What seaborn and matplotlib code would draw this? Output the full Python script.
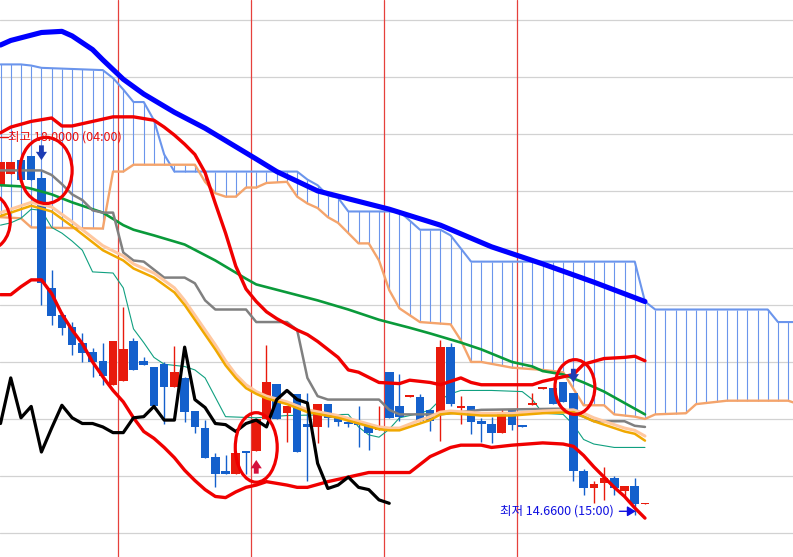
import numpy as np
import matplotlib
matplotlib.use("Agg")
import matplotlib.pyplot as plt
import seaborn as sns
from matplotlib.patches import Ellipse

# candles, one per bar (bar 0 is cut at the left edge)
bar_open = [17.54, 17.65, 17.77, 17.81, 17.61, 16.65, 16.41, 16.31, 16.17, 16.09,
            16.01, 15.80, 15.83, 16.18, 16.01, 15.96, 15.98, 15.78, 15.86, 15.57,
            15.42, 15.17, 15.04, 15.02, 15.21, 15.22, 15.50, 15.81, 15.55, 15.72,
            15.46, 15.43, 15.63, 15.51, 15.47, 15.47, 15.46, 15.40, 15.91, 15.61,
            15.69, 15.69, 15.58, 15.55, 16.13, 15.60, 15.61, 15.48, 15.46, 15.38,
            15.58, 15.44, 15.62, 15.76, 15.77, 15.82, 15.73, 15.04, 14.89, 14.94,
            14.98, 14.87, 14.91, 14.75]
bar_high = [17.75, 17.75, 17.77, 17.81, 17.68, 16.81, 16.44, 16.35, 16.25, 16.12,
            16.17, 16.18, 16.48, 16.21, 16.04, 15.96, 16.00, 16.14, 15.87, 15.57,
            15.49, 15.20, 15.18, 15.20, 15.21, 15.50, 16.15, 15.81, 15.61, 15.72,
            15.73, 15.63, 15.63, 15.54, 15.52, 15.61, 15.46, 15.61, 15.91, 15.89,
            15.70, 15.72, 15.58, 16.19, 16.17, 15.70, 15.61, 15.51, 15.52, 15.59,
            15.58, 15.44, 15.73, 15.77, 15.77, 15.82, 15.73, 15.06, 14.96, 15.08,
            15.00, 14.91, 14.98, 14.76]
bar_low = [17.54, 17.65, 17.60, 17.60, 16.50, 16.32, 16.24, 16.06, 16.00, 15.87,
           15.80, 15.80, 15.83, 15.93, 15.97, 15.60, 15.46, 15.78, 15.47, 15.38,
           15.16, 14.90, 15.02, 15.02, 15.02, 15.22, 15.50, 15.50, 15.30, 15.21,
           14.96, 15.29, 15.43, 15.44, 15.43, 15.25, 15.23, 15.40, 15.51, 15.48,
           15.69, 15.48, 15.39, 15.31, 15.61, 15.46, 15.37, 15.30, 15.29, 15.38,
           15.40, 15.43, 15.62, 15.76, 15.63, 15.65, 14.96, 14.83, 14.76, 14.79,
           14.83, 14.82, 14.66, 14.75]
bar_close = [17.75, 17.75, 17.60, 17.60, 16.69, 16.40, 16.30, 16.15, 16.08, 16.00,
             15.88, 16.18, 16.11, 15.93, 15.97, 15.61, 15.78, 15.91, 15.56, 15.43,
             15.16, 15.02, 15.02, 15.20, 15.20, 15.50, 15.82, 15.50, 15.61, 15.21,
             15.43, 15.63, 15.51, 15.47, 15.46, 15.45, 15.38, 15.42, 15.51, 15.52,
             15.70, 15.48, 15.48, 16.13, 15.63, 15.61, 15.47, 15.46, 15.38, 15.55,
             15.45, 15.43, 15.63, 15.77, 15.63, 15.65, 15.04, 14.89, 14.93, 14.98,
             14.89, 14.91, 14.75, 14.76]

# long moving average (thick blue)
ma_long_x = [0, 1, 4, 6, 7, 9, 10, 12, 14, 17, 20, 25, 27, 31, 38, 43, 48, 53, 58, 63]
ma_long = [18.78, 18.82, 18.89, 18.90, 18.86, 18.74, 18.65, 18.48, 18.35, 18.19,
           18.05, 17.78, 17.67, 17.50, 17.34, 17.20, 17.01, 16.86, 16.70, 16.53]

# cloud edges
span_a_x = [0, 2, 3, 4, 10, 11, 12, 13, 14, 15, 16, 17, 29, 30, 31, 32, 33, 34, 39,
            41, 43, 44, 46, 62, 63, 64, 75, 76, 78]
span_a = [18.61, 18.61, 18.60, 18.58, 18.56, 18.49, 18.39, 18.28, 18.28, 18.12,
          17.82, 17.67, 17.67, 17.60, 17.55, 17.46, 17.44, 17.32, 17.32, 17.16,
          17.16, 17.11, 16.88, 16.88, 16.53, 16.46, 16.46, 16.35, 16.35]
span_b_x = [0, 2, 3, 10, 11, 12, 13, 19, 20, 21, 22, 23, 24, 25, 26, 28, 29, 30, 31,
            32, 33, 34, 35, 36, 37, 38, 39, 41, 44, 45, 46, 47, 50, 53, 55, 57, 59,
            60, 62, 63, 64, 67, 68, 71, 77, 78]
span_b = [17.27, 17.26, 17.18, 17.17, 17.67, 17.67, 17.73, 17.73, 17.58, 17.48,
          17.45, 17.45, 17.53, 17.53, 17.57, 17.58, 17.45, 17.39, 17.35, 17.27,
          17.22, 17.13, 17.04, 17.04, 16.89, 16.63, 16.47, 16.35, 16.33, 16.19,
          16.00, 16.00, 15.95, 15.93, 15.91, 15.62, 15.62, 15.54, 15.52, 15.50,
          15.54, 15.55, 15.63, 15.66, 15.66, 15.63]

# bollinger bands
bb_up_x = [0, 1, 3, 5, 6, 7, 8, 10, 11, 13, 15, 16, 17, 18, 19, 20, 21, 22, 23, 24,
           25, 26, 27, 29, 30, 31, 33, 34, 35, 37, 39, 40, 42, 43, 45, 46, 47, 52,
           53, 55, 56, 57, 59, 61, 62, 63]
bb_up = [18.01, 18.06, 18.11, 18.14, 18.07, 18.07, 18.09, 18.13, 18.15, 18.15,
         18.12, 18.06, 17.99, 17.91, 17.82, 17.66, 17.39, 17.13, 16.84, 16.64,
         16.53, 16.44, 16.38, 16.28, 16.24, 16.18, 16.04, 15.93, 15.91, 15.82,
         15.81, 15.84, 15.82, 15.80, 15.86, 15.82, 15.80, 15.80, 15.83, 15.87,
         15.89, 15.98, 16.03, 16.04, 16.05, 16.01]
bb_lo_x = [0, 1, 2, 3, 4, 5, 6, 7, 8, 9, 10, 11, 12, 13, 14, 15, 16, 17, 18, 19, 20,
           21, 22, 23, 24, 25, 26, 28, 29, 30, 32, 34, 36, 40, 41, 42, 43, 44, 45,
           47, 48, 50, 53, 55, 56, 57, 58, 59, 60, 61, 62, 63]
bb_lo = [16.59, 16.59, 16.66, 16.72, 16.72, 16.60, 16.42, 16.28, 16.16, 16.00,
         15.87, 15.75, 15.65, 15.51, 15.39, 15.33, 15.25, 15.16, 15.05, 14.96,
         14.88, 14.82, 14.81, 14.86, 14.90, 14.92, 14.95, 14.92, 14.90, 14.90,
         14.95, 14.99, 15.03, 15.03, 15.10, 15.17, 15.21, 15.25, 15.27, 15.27,
         15.25, 15.27, 15.29, 15.28, 15.26, 15.18, 15.08, 14.99, 14.90, 14.82,
         14.72, 14.63]

# mid moving average (green)
ma_mid_x = [0, 2, 3, 5, 7, 10, 12, 13, 15, 18, 21, 24, 25, 28, 31, 34, 37, 40, 42,
            45, 47, 50, 52, 53, 55, 57, 59, 61, 63]
ma_mid = [17.55, 17.54, 17.52, 17.47, 17.40, 17.31, 17.20, 17.16, 17.11, 17.03,
          16.89, 16.73, 16.68, 16.61, 16.54, 16.46, 16.37, 16.30, 16.25, 16.17,
          16.11, 16.00, 15.96, 15.92, 15.89, 15.82, 15.74, 15.64, 15.54]

# base line (gray)
base_x = [0, 4, 5, 6, 7, 8, 9, 10, 11, 12, 13, 14, 16, 18, 19, 20, 21, 24, 25, 28,
          29, 30, 31, 32, 37, 38, 39, 43, 45, 47, 55, 56, 57, 58, 61, 62, 63]
base = [17.68, 17.68, 17.64, 17.56, 17.47, 17.42, 17.33, 17.31, 17.31, 16.96,
        16.89, 16.88, 16.74, 16.74, 16.69, 16.54, 16.46, 16.46, 16.35, 16.35,
        16.28, 15.86, 15.70, 15.67, 15.67, 15.58, 15.54, 15.54, 15.56, 15.58,
        15.59, 15.55, 15.52, 15.48, 15.48, 15.44, 15.43]

# conversion line (thin teal)
conv_x = [0, 1, 2, 3, 4, 5, 6, 7, 8, 9, 11, 12, 13, 14, 15, 16, 18, 19, 20, 21, 22,
          25, 28, 34, 35, 36, 37, 38, 39, 41, 42, 43, 44, 45, 48, 51, 52, 53, 55,
          56, 57, 58, 60, 63]
conv = [17.20, 17.22, 17.26, 17.34, 17.33, 17.18, 17.13, 17.06, 16.98, 16.79,
        16.78, 16.65, 16.29, 16.17, 16.04, 15.98, 15.96, 15.93, 15.86, 15.69,
        15.52, 15.51, 15.53, 15.54, 15.43, 15.36, 15.34, 15.41, 15.51, 15.55,
        15.58, 15.67, 15.72, 15.75, 15.75, 15.74, 15.67, 15.55, 15.54, 15.45,
        15.32, 15.28, 15.25, 15.25]

# short moving averages (orange pair)
ma_short_x = [0, 3, 5, 7, 10, 12, 13, 15, 17, 18, 19, 20, 21, 22, 23, 24, 25, 26,
              28, 30, 33, 35, 37, 38, 39, 41, 42, 43, 44, 47, 50, 53, 56, 57, 58,
              59, 60, 61, 62, 63]
ma_short = [17.28, 17.37, 17.32, 17.19, 16.98, 16.89, 16.82, 16.74, 16.61, 16.50,
            16.37, 16.24, 16.11, 15.97, 15.86, 15.77, 15.72, 15.68, 15.63, 15.56,
            15.51, 15.46, 15.41, 15.40, 15.40, 15.46, 15.49, 15.54, 15.55, 15.53,
            15.53, 15.55, 15.56, 15.52, 15.48, 15.45, 15.42, 15.39, 15.37, 15.31]
ma_short2 = [17.31, 17.40, 17.36, 17.23, 17.02, 16.93, 16.86, 16.78, 16.65, 16.54,
             16.41, 16.28, 16.15, 16.01, 15.89, 15.80, 15.74, 15.70, 15.65, 15.58,
             15.53, 15.48, 15.43, 15.42, 15.42, 15.49, 15.52, 15.56, 15.57, 15.55,
             15.55, 15.57, 15.58, 15.55, 15.51, 15.48, 15.45, 15.42, 15.40, 15.35]

# lagging span (black)
lag_x = list(range(39))
lag = [15.46, 15.86, 15.51, 15.61, 15.21, 15.42, 15.62, 15.51, 15.46, 15.46,
       15.43, 15.38, 15.38, 15.51, 15.52, 15.61, 15.49, 15.49, 16.13, 15.67,
       15.60, 15.46, 15.45, 15.39, 15.46, 15.49, 15.43, 15.67, 15.75, 15.67,
       15.64, 15.11, 14.89, 14.92, 14.99, 14.90, 14.88, 14.79, 14.76]

grid_levels = [14.5, 15.0, 15.5, 16.0, 16.5, 17.0, 17.5, 18.0, 18.5, 19.0]
day_breaks = [11.5, 24.5, 37.5, 50.5]

# red circle marks: bar, price, width (bars), height (price)
circle_bar = [4.45, -1.5, 25.0, 56.15]
circle_price = [17.68, 17.23, 15.25, 15.78]
circle_w = [5.1, 4.9, 4.1, 3.9]
circle_h = [0.58, 0.51, 0.61, 0.48]

# signal arrows: bar, tail, tip
sell_bar = [4, 56]
sell_tail = [17.90, 15.94]
sell_tip = [17.77, 15.82]
buy_bar = [25]
buy_tail = [15.02]
buy_tip = [15.14]

high_label = "최고 18.0000 (04:00)"
low_label = "최저 14.6600 (15:00)"

sns.set_style("white")
plt.rcParams['font.family'] = ['Noto Sans CJK KR', 'DejaVu Sans']

fig = plt.figure(figsize=(7.93, 5.57), dpi=100)
ax = fig.add_axes([0, 0, 1, 1])
ax.set_xlim(-0.05, 77.47)
ax.set_ylim(14.289, 19.175)
ax.axis('off')

for g in grid_levels:
    ax.axhline(g, color='#d2d2d2', lw=0.9, zorder=0)
for d in day_breaks:
    ax.axvline(d, color='#e6403c', lw=0.9, zorder=1)

# cloud with vertical hatch on every bar
cloud_bars = np.arange(0, 78)
cloud_top = np.interp(cloud_bars, span_a_x, span_a)
cloud_bot = np.interp(cloud_bars, span_b_x, span_b)
ax.vlines(cloud_bars, cloud_bot, cloud_top, color='#6b95ec', lw=0.8, zorder=1)
sns.lineplot(x=span_a_x, y=span_a, ax=ax, color='#6b95ec', lw=1.5, zorder=2, legend=False)
sns.lineplot(x=span_b_x, y=span_b, ax=ax, color='#f4a46c', lw=1.7, zorder=2, legend=False)

sns.lineplot(x=ma_long_x, y=ma_long, ax=ax, color='#0000ff', lw=3.7, zorder=2, legend=False)
sns.lineplot(x=conv_x, y=conv, ax=ax, color='#10a080', lw=0.8, zorder=2, legend=False)

# candles
o = np.array(bar_open)
c = np.array(bar_close)
hi = np.array(bar_high)
lo = np.array(bar_low)
idx = np.arange(len(o))
col = np.where(c >= o, '#e81a0c', '#1460cc')
ax.vlines(idx, lo, hi, color=col, lw=1.0, zorder=3)
ax.bar(idx, np.maximum(np.abs(c - o), 0.017), bottom=np.minimum(o, c),
       width=0.84, color=col, linewidth=0, zorder=3)

sns.lineplot(x=ma_mid_x, y=ma_mid, ax=ax, color='#0a9a3a', lw=1.9, zorder=4, legend=False)
sns.lineplot(x=base_x, y=base, ax=ax, color='#808080', lw=1.8, zorder=4, legend=False)
sns.lineplot(x=ma_short_x, y=ma_short2, ax=ax, color='#ffc8a0', lw=2.2, zorder=4, legend=False)
sns.lineplot(x=ma_short_x, y=ma_short, ax=ax, color='#f0a800', lw=1.8, zorder=4, legend=False)
sns.lineplot(x=bb_up_x, y=bb_up, ax=ax, color='#f00000', lw=2.4, zorder=4, legend=False)
sns.lineplot(x=bb_lo_x, y=bb_lo, ax=ax, color='#f00000', lw=2.4, zorder=4, legend=False)
sns.lineplot(x=lag_x, y=lag, ax=ax, color='#000000', lw=2.3, zorder=4, legend=False)

for b, p, w, h in zip(circle_bar, circle_price, circle_w, circle_h):
    ax.add_patch(Ellipse((b, p), w, h, fill=False, edgecolor='#f00000', lw=2.3, zorder=5))

arrow_style = "simple,head_length=0.6,head_width=0.8,tail_width=0.35"
for b, t0, t1 in zip(sell_bar, sell_tail, sell_tip):
    ax.annotate("", xy=(b, t1), xytext=(b, t0),
                arrowprops=dict(arrowstyle=arrow_style, mutation_scale=10,
                                color='#1c3cb4', lw=0, shrinkA=0, shrinkB=0), zorder=6)
for b, t0, t1 in zip(buy_bar, buy_tail, buy_tip):
    ax.annotate("", xy=(b, t1), xytext=(b, t0),
                arrowprops=dict(arrowstyle=arrow_style, mutation_scale=10,
                                color='#d4103c', lw=0, shrinkA=0, shrinkB=0), zorder=6)

# high / low labels
ax.plot([-0.05, 0.7], [17.97, 17.97], color='#e81010', lw=1.0, zorder=6)
ax.text(0.75, 17.97, high_label, ha='left', va='center', fontsize=9,
        color='#e81010', zorder=6)
ax.text(59.9, 14.69, low_label, ha='right', va='center', fontsize=9,
        color='#1010e0', zorder=6)
ax.annotate("", xy=(62.1, 14.69), xytext=(60.5, 14.69),
            arrowprops=dict(arrowstyle='-|>,head_length=0.5,head_width=0.3',
                            color='#1010e0', lw=1.0, shrinkA=0, shrinkB=0), zorder=6)

fig.savefig('out.png', dpi=100)
